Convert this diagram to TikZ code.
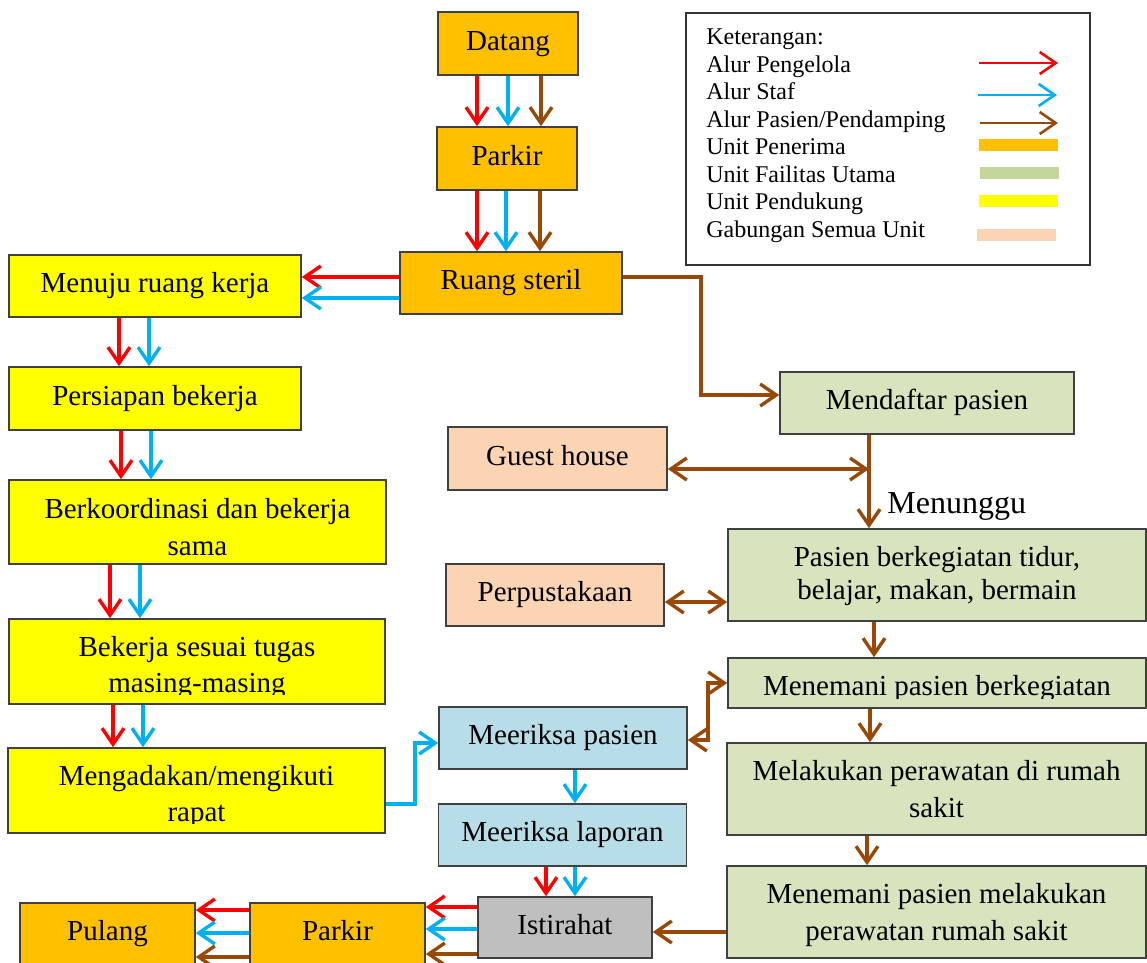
\documentclass[tikz,border=0pt]{standalone}
\usepackage{fontspec}
\setmainfont{Liberation Serif}
\usetikzlibrary{arrows.meta}
\definecolor{cOrange}{HTML}{FFC000}
\definecolor{cYellow}{HTML}{FFFF00}
\definecolor{cGreen}{HTML}{D7E4BD}
\definecolor{cGreenBar}{HTML}{C3D69B}
\definecolor{cBlueBox}{HTML}{B7DEE8}
\definecolor{cPeach}{HTML}{FBD4B4}
\definecolor{cGray}{HTML}{BFBFBF}
\definecolor{cRed}{HTML}{FF0000}
\definecolor{cBlue}{HTML}{00B0F0}
\definecolor{cBrown}{RGB}{152,72,7}
\newcommand{\mainfs}{\fontsize{14.5}{18.5}\selectfont}
\newcommand{\vArr}[4]{\draw[#1] ([xshift=#2]#3.south) -- ([xshift=#2]#3.south |- #4.north);}
\newcommand{\hArrL}[4]{\draw[#1] ([yshift=#2]#3.west) -- ([yshift=#2]#3.west -| #4.east);}
\tikzset{
  mytip/.tip={Straight Barb[length=8pt,width=11pt]},
  box/.style={draw=black!75, line width=0.8pt, inner sep=0pt, font=\mainfs},
  single/.style={box, text height=9.9pt, text depth=3.2pt},
  multi/.style={box, align=center},
  txt/.style={inner sep=0pt, font=\mainfs, anchor=base},
  lg/.style={anchor=base west, inner sep=0pt, font=\fontsize{12}{13.75}\selectfont},
  arr/.style={line width=1.7pt, -mytip},
  dbl/.style={line width=1.7pt, mytip-mytip},
  ra/.style={arr, draw=cRed},
  ba/.style={arr, draw=cBlue},
  wa/.style={arr, draw=cBrown},
}
\begin{document}
\begin{tikzpicture}[x=0.5pt, y=-0.5pt]
\useasboundingbox (0,0) rectangle (1147,963);
\clip (0,0) rectangle (1147,963);
\fill[white] (0,0) rectangle (1147,963);

% ---------- boxes ----------
\node[single, fill=cOrange, minimum width=70pt, minimum height=31.5pt] (datang) at (508,43.5) {Datang};
\node[single, fill=cOrange, minimum width=70pt, minimum height=31.5pt] (parkirA) at (507,158.5) {Parkir};
\node[single, fill=cOrange, minimum width=111pt, minimum height=31pt] (steril) at (511,283) {Ruang steril};

\node[single, fill=cYellow, minimum width=146pt, minimum height=31pt] (menuju) at (155,286) {Menuju ruang kerja};
\node[single, fill=cYellow, minimum width=146pt, minimum height=31.5pt] (persiapan) at (155,398.5) {Persiapan bekerja};
\node[multi, fill=cYellow, minimum width=188.5pt, minimum height=42pt] (berkoor) at (197.5,522) {\rule{0pt}{14.9pt}Berkoordinasi dan bekerja\\sama};
\node[box, fill=cYellow, minimum width=188pt, minimum height=42.5pt] (bekerja) at (197,661.5) {};
\begin{scope}
\clip ([yshift=5.3pt]bekerja.south west) rectangle (bekerja.north east);
\node[txt] (bekerjaA) at (197,656) {Bekerja sesuai tugas};
\node[txt] (bekerjaB) at (197,692) {masing-masing};
\end{scope}
\node[box, fill=cYellow, minimum width=188.5pt, minimum height=42.5pt] (mengadakan) at (196.5,790.5) {};
\begin{scope}
\clip ([yshift=5.3pt]mengadakan.south west) rectangle (mengadakan.north east);
\node[txt] (mengadakanA) at (196.5,785) {Mengadakan/mengikuti};
\node[txt] (mengadakanB) at (196.5,821) {rapat};
\end{scope}

\node[single, fill=cOrange, minimum width=87.5pt, minimum height=31pt] (pulang) at (107.5,934) {Pulang};
\node[single, fill=cOrange, minimum width=87.5pt, minimum height=31pt] (parkirB) at (337.5,934) {Parkir};
\node[single, fill=cGray, minimum width=87pt, minimum height=30.5pt] (istirahat) at (565,927.5) {Istirahat};

\node[single, fill=cBlueBox, minimum width=124pt, minimum height=31pt] (mpasien) at (563,738) {Meeriksa pasien};
\node[single, fill=cBlueBox, minimum width=124pt, minimum height=31pt] (mlaporan) at (562.5,835) {Meeriksa laporan};

\node[single, fill=cPeach, minimum width=109.5pt, minimum height=31.5pt] (guest) at (557.5,458.5) {Guest house};
\node[single, fill=cPeach, minimum width=109pt, minimum height=31pt] (perpus) at (555,595) {Perpustakaan};

\node[single, fill=cGreen, minimum width=147pt, minimum height=31pt] (mendaftar) at (927,403) {Mendaftar pasien};
\node[multi, fill=cGreen, minimum width=209pt, minimum height=46pt, font=\fontsize{14.5}{16.5}\selectfont] (pasien) at (937,575) {\rule{0pt}{11.5pt}Pasien berkegiatan tidur,\\belajar, makan, bermain};
\node[box, fill=cGreen, minimum width=209pt, minimum height=25pt] (menemaniA) at (937,683) {};
\begin{scope}
\clip ([yshift=5.3pt]menemaniA.south west) rectangle (menemaniA.north east);
\node[txt] (menemaniAT) at (937,695) {Menemani pasien berkegiatan};
\end{scope}
\node[multi, fill=cGreen, minimum width=209.5pt, minimum height=46pt] (melakukan) at (936.5,789) {Melakukan perawatan di rumah\\sakit};
\node[multi, fill=cGreen, minimum width=209.5pt, minimum height=46pt] (menemaniB) at (936.5,912) {\rule{0pt}{12.9pt}Menemani pasien melakukan\\perawatan rumah sakit};

\node[anchor=base west, inner sep=0pt, font=\fontsize{16}{19}\selectfont] (menunggu) at (887,513) {Menunggu};

% ---------- legend ----------
\node[draw=black!80, line width=0.8pt, minimum width=202pt, minimum height=126pt, inner sep=0pt] (legend) at (888,139) {};
\node[lg] (lg1) at (706,45) {Keterangan:};
\node[lg] (lg2) at (706,72.5) {Alur Pengelola};
\node[lg] (lg3) at (706,100) {Alur Staf};
\node[lg] (lg4) at (706,127.5) {Alur Pasien/Pendamping};
\node[lg] (lg5) at (706,155) {Unit Penerima};
\node[lg] (lg6) at (706,182.5) {Unit Failitas Utama};
\node[lg] (lg7) at (706,210) {Unit Pendukung};
\node[lg] (lg8) at (706,237.5) {Gabungan Semua Unit};
\draw[ra, line width=1.3pt] (979,63) -- (1058,63);
\draw[ba, line width=1.3pt] (978,95) -- (1057,95);
\draw[wa, line width=1.3pt] (980,123) -- (1058,123);
\fill[cOrange] (979,139) rectangle (1058,151);
\fill[cGreenBar] (980,167) rectangle (1059,179);
\fill[cYellow] (979,195) rectangle (1058,207);
\fill[cPeach] (977,229) rectangle (1056,241);

% ---------- connectors ----------
\vArr{ra}{-15.5pt}{datang}{parkirA}
\vArr{ba}{0pt}{datang}{parkirA}
\vArr{wa}{16.5pt}{datang}{parkirA}
\vArr{ra}{-15pt}{parkirA}{steril}
\vArr{ba}{-0.5pt}{parkirA}{steril}
\vArr{wa}{16.5pt}{parkirA}{steril}

\hArrL{ra}{3pt}{steril}{menuju}
\hArrL{ba}{-7.5pt}{steril}{menuju}

\coordinate (b1) at (701,395);
\draw[wa] ([yshift=3pt]steril.east) -| (b1) -- (b1 -| mendaftar.west);

\vArr{ra}{-18pt}{menuju}{persiapan}
\vArr{ba}{-3pt}{menuju}{persiapan}
\vArr{ra}{-17pt}{persiapan}{berkoor}
\vArr{ba}{-2pt}{persiapan}{berkoor}
\vArr{ra}{-43.75pt}{berkoor}{bekerja}
\vArr{ba}{-28.75pt}{berkoor}{bekerja}
\vArr{ra}{-42pt}{bekerja}{mengadakan}
\vArr{ba}{-27pt}{bekerja}{mengadakan}

\coordinate (b2) at (415,743);
\draw[ba] ([yshift=-6.75pt]mengadakan.east) -| (b2) -- (b2 -| mpasien.west);

\vArr{ba}{6pt}{mpasien}{mlaporan}
\vArr{ra}{-8.25pt}{mlaporan}{istirahat}
\vArr{ba}{6.25pt}{mlaporan}{istirahat}

\hArrL{ra}{10.25pt}{istirahat}{parkirB}
\hArrL{ba}{-0.75pt}{istirahat}{parkirB}
\hArrL{wa}{-13.25pt}{istirahat}{parkirB}
\hArrL{ra}{12pt}{parkirB}{pulang}
\hArrL{ba}{0.5pt}{parkirB}{pulang}
\hArrL{wa}{-11.5pt}{parkirB}{pulang}

\hArrL{wa}{-10pt}{menemaniB}{istirahat}

\vArr{wa}{-29pt}{mendaftar}{pasien}
\coordinate (v1) at ([xshift=-29pt]mendaftar.south);
\draw[dbl, draw=cBrown] ([yshift=-5.25pt]guest.east) -- ([yshift=-5.25pt]guest.east -| v1);
\draw[dbl, draw=cBrown] ([yshift=-3.5pt]perpus.east) -- ([yshift=-3.5pt]perpus.east -| pasien.west);

\vArr{wa}{-31.5pt}{pasien}{menemaniA}
\coordinate (b3) at (708,740);
\draw[dbl, draw=cBrown] (menemaniA.west) -| (b3) -- (b3 -| mpasien.east);
\vArr{wa}{-33.5pt}{menemaniA}{melakukan}
\vArr{wa}{-34.75pt}{melakukan}{menemaniB}
\end{tikzpicture}
\end{document}
